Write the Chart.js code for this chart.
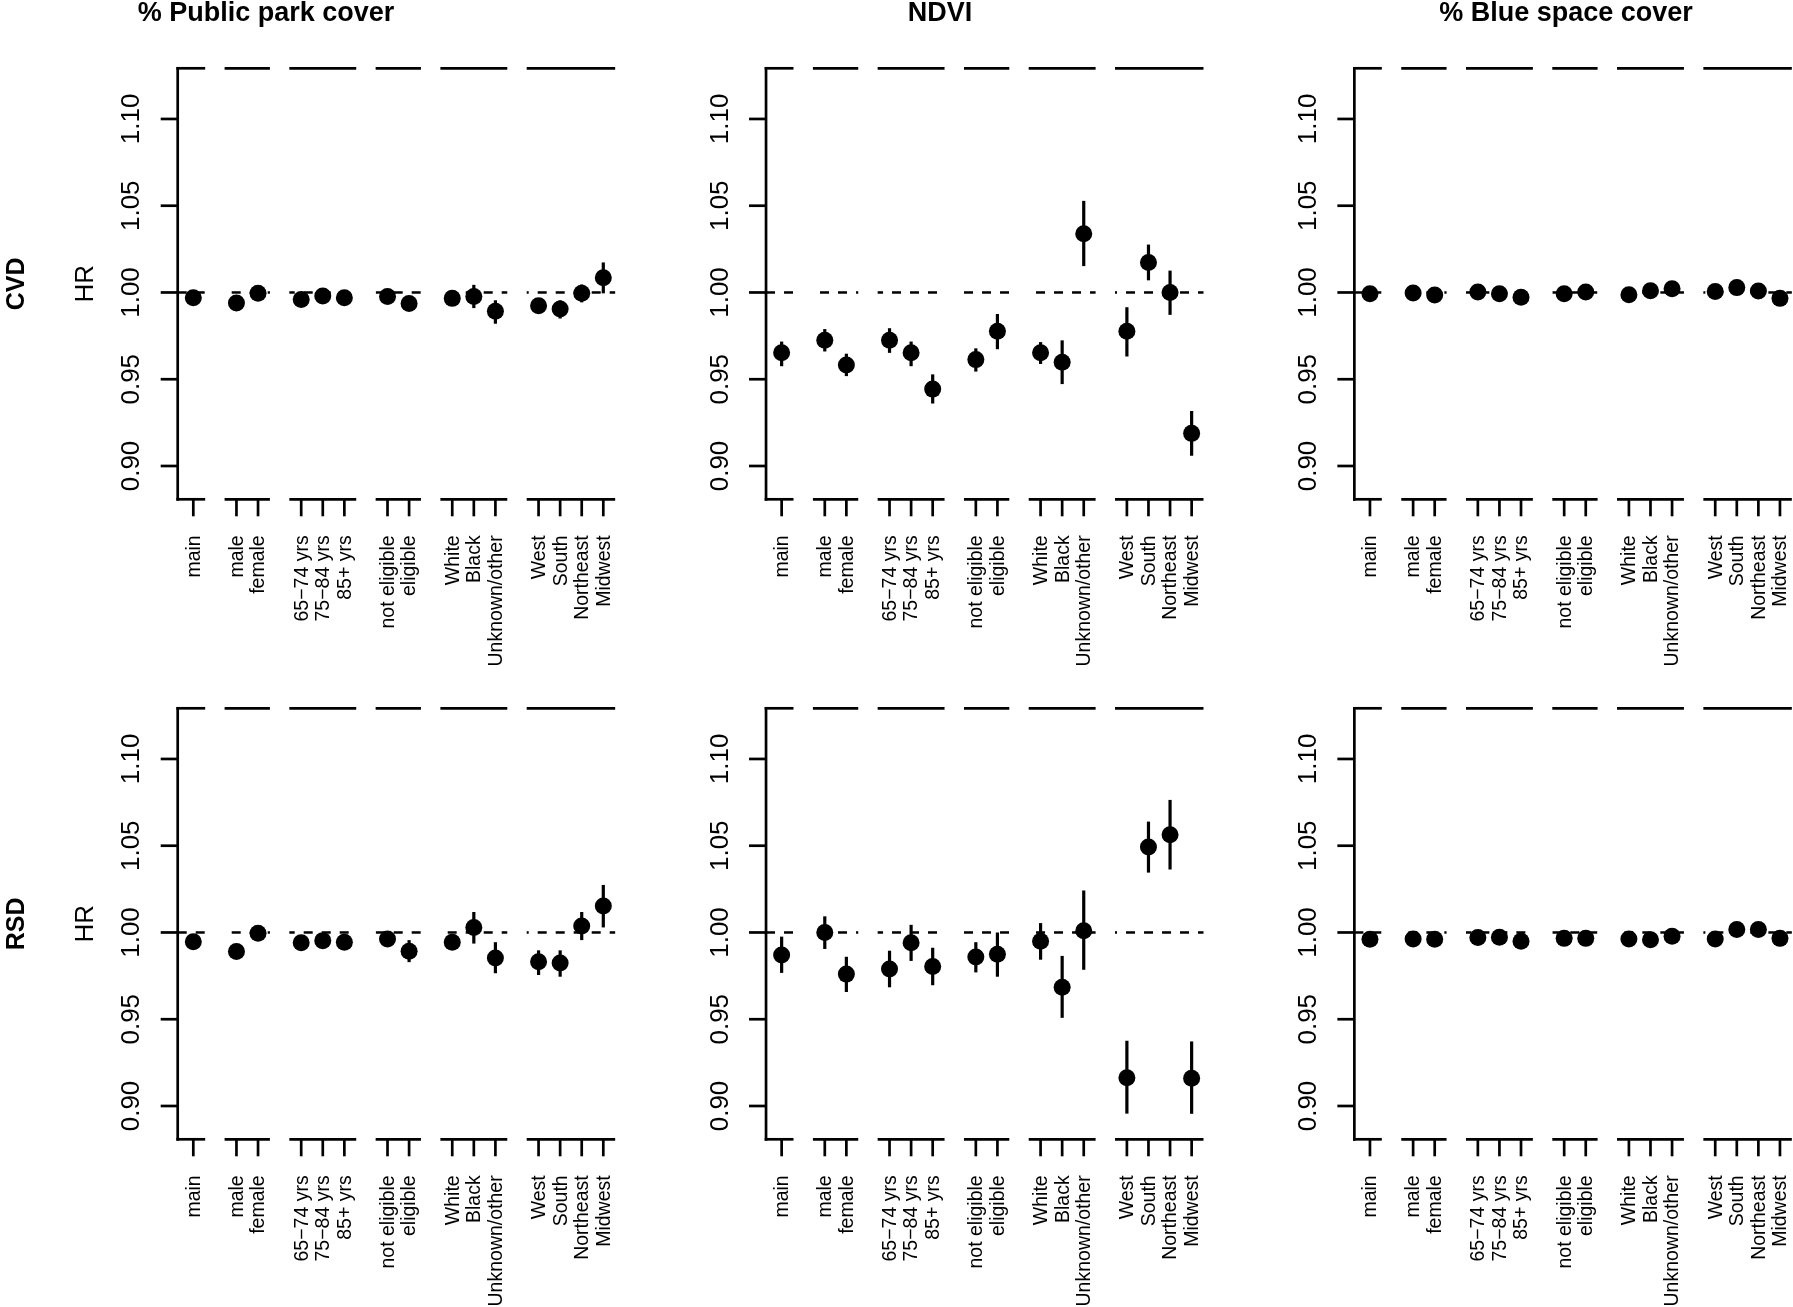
<!DOCTYPE html>
<html><head><meta charset="utf-8">
<script src="https://cdn.jsdelivr.net/npm/chart.js@4.4.1/dist/chart.umd.min.js"></script>
<style>
html,body{margin:0;padding:0;background:#fff;}
body{width:1793px;height:1307px;overflow:hidden;position:relative;}
canvas{position:absolute;}
</style></head><body>
<script>
// ---------------- DATA ----------------
const exposures = ['% Public park cover', 'NDVI', '% Blue space cover'];
const outcomes = ['CVD', 'RSD'];
const yAxisTitle = 'HR';
const groups = [
  ['main'],
  ['male', 'female'],
  ['65\u221274 yrs', '75\u221284 yrs', '85+ yrs'],
  ['not eligible', 'eligible'],
  ['White', 'Black', 'Unknown/other'],
  ['West', 'South', 'Northeast', 'Midwest']
];
const yTicks = [0.90, 0.95, 1.00, 1.05, 1.10];
const yTickLabels = ['0.90', '0.95', '1.00', '1.05', '1.10'];
const refValue = 1.00;

const parkCvdHR = [0.997, 0.994, 0.9995, 0.996, 0.998, 0.997, 0.9977, 0.9936, 0.9966, 0.9977, 0.9892, 0.9923, 0.9905, 0.9995, 1.0085];
const parkCvdLo = [0.995, 0.991, 0.997, 0.993, 0.995, 0.994, 0.995, 0.990, 0.994, 0.991, 0.982, 0.9895, 0.985, 0.9943, 0.9995];
const parkCvdHi = [0.999, 0.997, 1.002, 0.999, 1.001, 1.000, 1.0005, 0.997, 0.999, 1.0044, 0.9955, 0.995, 0.9955, 1.0046, 1.0173];

const ndviCvdHR = [0.9652, 0.9724, 0.9582, 0.9724, 0.9652, 0.9443, 0.9613, 0.9776, 0.9652, 0.9598, 1.0338, 0.9776, 1.0173, 1.0000, 0.9188];
const ndviCvdLo = [0.9575, 0.9660, 0.9518, 0.9652, 0.9575, 0.9360, 0.9544, 0.9673, 0.9588, 0.9472, 1.0152, 0.9631, 1.0070, 0.9871, 0.9059];
const ndviCvdHi = [0.9717, 0.9789, 0.9647, 0.9794, 0.9717, 0.9528, 0.9678, 0.9876, 0.9714, 0.9724, 1.0528, 0.9915, 1.0276, 1.0126, 0.9317];

const blueCvdHR = [0.9992, 0.9997, 0.9985, 1.0003, 0.9992, 0.9972, 0.9992, 1.0003, 0.9987, 1.0010, 1.0021, 1.0005, 1.0028, 1.0008, 0.9966];
const blueCvdLo = [0.9975, 0.9980, 0.9968, 0.9986, 0.9975, 0.9953, 0.9975, 0.9986, 0.9970, 0.9992, 1.0002, 0.9988, 1.0010, 0.9990, 0.9946];
const blueCvdHi = [1.0009, 1.0014, 1.0002, 1.0020, 1.0009, 0.9991, 1.0009, 1.0020, 1.0004, 1.0028, 1.0040, 1.0022, 1.0046, 1.0026, 0.9986];

const parkRsdHR = [0.9946, 0.9890, 0.9995, 0.9941, 0.9953, 0.9944, 0.9963, 0.9892, 0.9944, 1.0029, 0.9853, 0.9831, 0.9824, 1.0037, 1.0152];
const parkRsdLo = [0.9925, 0.9865, 0.9965, 0.9910, 0.9925, 0.9910, 0.9935, 0.9829, 0.9920, 0.9936, 0.9765, 0.9755, 0.9745, 0.9956, 1.0029];
const parkRsdHi = [0.9967, 0.9915, 1.0025, 0.9970, 0.9980, 0.9975, 0.9990, 0.9956, 0.9968, 1.0118, 0.9944, 0.9897, 0.9897, 1.0118, 1.0274];

const ndviRsdHR = [0.9870, 1.0000, 0.9760, 0.9789, 0.9941, 0.9804, 0.9858, 0.9875, 0.9949, 0.9684, 1.0010, 0.9163, 1.0492, 1.0563, 0.9160];
const ndviRsdLo = [0.9767, 0.9905, 0.9657, 0.9684, 0.9836, 0.9696, 0.9770, 0.9745, 0.9843, 0.9508, 0.9785, 0.8956, 1.0345, 1.0363, 0.8955];
const ndviRsdHi = [0.9976, 1.0093, 0.9860, 0.9895, 1.0044, 0.9912, 0.9944, 1.0000, 1.0054, 0.9865, 1.0242, 0.9376, 1.0639, 1.0764, 0.9372];

const blueRsdHR = [0.9961, 0.9963, 0.9961, 0.9971, 0.9973, 0.9949, 0.9966, 0.9966, 0.9963, 0.9958, 0.9978, 0.9963, 1.0017, 1.0017, 0.9966];
const blueRsdLo = [0.9944, 0.9946, 0.9944, 0.9954, 0.9956, 0.9930, 0.9949, 0.9949, 0.9946, 0.9940, 0.9960, 0.9946, 1.0000, 1.0000, 0.9921];
const blueRsdHi = [0.9978, 0.9980, 0.9978, 0.9988, 0.9990, 0.9968, 0.9983, 0.9983, 0.9980, 0.9976, 0.9996, 0.9980, 1.0034, 1.0034, 1.0011];

const panelSeries = [
  [[parkCvdHR, parkCvdLo, parkCvdHi], [ndviCvdHR, ndviCvdLo, ndviCvdHi], [blueCvdHR, blueCvdLo, blueCvdHi]],
  [[parkRsdHR, parkRsdLo, parkRsdHi], [ndviRsdHR, ndviRsdLo, ndviRsdHi], [blueRsdHR, blueRsdLo, blueRsdHi]]
];

// ---------------- LAYOUT / STYLE ----------------
const FONT = '"Liberation Sans", Arial, Helvetica, sans-serif';
const COL_W = 588.33, AXIS0 = 177.7, TOP0 = 68.3, ROW_H = 640, PLOT_H = 431;
const X_MIN = 0.277, X_MAX = 20.76, Y_MIN = 0.8808, Y_MAX = 1.1292;
const PLOT_W = 442.0;
const LW = 2.7;
const TICK_LEN = 17;
const TITLE_CX = [266, 940, 1566];

// category positions built from group structure (gap of one unit between groups)
const catLabels = [], catPos = [], groupSpans = [];
(function () {
  let p = 1;
  groups.forEach(g => {
    const first = p;
    g.forEach(l => { catLabels.push(l); catPos.push(p); p++; });
    groupSpans.push([first, p - 1]);
    p++;
  });
})();

function vtext(ctx, s, x, y, align, baseline) {
  ctx.save();
  ctx.translate(x, y);
  ctx.rotate(-Math.PI / 2);
  ctx.textAlign = align;
  ctx.textBaseline = baseline;
  ctx.fillText(s, 0, 0);
  ctx.restore();
}
function seg(ctx, x1, y1, x2, y2) {
  ctx.beginPath(); ctx.moveTo(x1, y1); ctx.lineTo(x2, y2); ctx.stroke();
}

const rPlugin = {
  id: 'rstyle',
  beforeDatasetsDraw(chart, args, opts) {
    const ctx = chart.ctx, a = chart.chartArea;
    const xs = chart.scales.x, ys = chart.scales.y;
    const spans = groupSpans.map((g, i) => [i === 0 ? xs.min : g[0] - 0.55, g[1] + 0.55]);
    ctx.save();
    ctx.strokeStyle = '#000';
    ctx.fillStyle = '#000';
    ctx.lineCap = 'butt';
    ctx.lineWidth = LW;

    // reference dashed line, clipped to group spans
    ctx.save();
    ctx.beginPath();
    spans.forEach(([s, e]) => {
      const p1 = xs.getPixelForValue(s), p2 = xs.getPixelForValue(e);
      ctx.rect(p1, a.top, p2 - p1, a.bottom - a.top);
    });
    ctx.clip();
    ctx.setLineDash([9, 9]);
    ctx.lineWidth = 2.5;
    const yr = ys.getPixelForValue(refValue);
    seg(ctx, a.left, yr, a.right, yr);
    ctx.restore();

    // top/bottom box segments
    spans.forEach(([s, e], i) => {
      const p1 = xs.getPixelForValue(s) - (i === 0 ? LW / 2 : 0), p2 = xs.getPixelForValue(e);
      seg(ctx, p1, a.top, p2, a.top);
      seg(ctx, p1, a.bottom, p2, a.bottom);
    });
    // left axis
    seg(ctx, a.left, a.top - LW / 2, a.left, a.bottom + LW / 2);

    // y ticks + labels
    ctx.font = '26px ' + FONT;
    ys.ticks.forEach((t, i) => {
      const py = ys.getPixelForValue(t.value);
      seg(ctx, a.left - TICK_LEN, py, a.left, py);
      vtext(ctx, yTickLabels[i], a.left - 38.5, py, 'center', 'alphabetic');
    });

    // x ticks + labels
    ctx.font = '19.5px ' + FONT;
    catPos.forEach((p, i) => {
      const px = xs.getPixelForValue(p);
      seg(ctx, px, a.bottom, px, a.bottom + TICK_LEN);
      vtext(ctx, catLabels[i], px + 1, a.bottom + 36, 'right', 'middle');
    });

    // error bars
    const [hr, lo, hi] = opts.series;
    ctx.lineWidth = 3.2;
    catPos.forEach((p, i) => {
      const px = xs.getPixelForValue(p);
      seg(ctx, px, ys.getPixelForValue(lo[i]), px, ys.getPixelForValue(hi[i]));
    });

    const midY = (a.top + a.bottom) / 2;
    if (opts.col === 0) {
      ctx.font = '26px ' + FONT;
      vtext(ctx, yAxisTitle, a.left - 85, midY, 'center', 'alphabetic');
      ctx.font = 'bold 25px ' + FONT;
      vtext(ctx, outcomes[opts.row], 23.5 - opts.canvasLeft, midY, 'center', 'alphabetic');
    }
    if (opts.row === 0) {
      ctx.font = 'bold 27px ' + FONT;
      ctx.textAlign = 'center';
      ctx.textBaseline = 'alphabetic';
      ctx.fillText(exposures[opts.col], TITLE_CX[opts.col] - opts.canvasLeft, 21);
    }
    ctx.restore();
  }
};

for (let r = 0; r < 2; r++) {
  for (let c = 0; c < 3; c++) {
    const axisX = AXIS0 + c * COL_W;
    const left = Math.round(c * COL_W);
    const top = r * ROW_H;
    const W = 632, H = r === 0 ? 700 : 1307 - ROW_H;
    const cv = document.createElement('canvas');
    cv.width = W; cv.height = H;
    cv.style.left = left + 'px'; cv.style.top = top + 'px';
    cv.style.width = W + 'px'; cv.style.height = H + 'px';
    document.body.appendChild(cv);
    const padL = axisX - left;
    const [hr, lo, hi] = panelSeries[r][c];
    new Chart(cv.getContext('2d'), {
      type: 'scatter',
      data: {
        datasets: [{
          data: catPos.map((p, i) => ({ x: p, y: hr[i] })),
          pointRadius: 8.5,
          pointHoverRadius: 8.5,
          backgroundColor: '#000',
          borderColor: '#000',
          borderWidth: 0,
          showLine: false,
          clip: false
        }]
      },
      options: {
        responsive: false,
        animation: false,
        devicePixelRatio: 1,
        events: [],
        layout: { padding: { left: padL, top: TOP0, right: W - padL - PLOT_W, bottom: H - TOP0 - PLOT_H } },
        scales: {
          x: { type: 'linear', min: X_MIN, max: X_MAX, display: false },
          y: {
            type: 'linear', min: Y_MIN, max: Y_MAX, display: false,
            afterBuildTicks: s => { s.ticks = yTicks.map(v => ({ value: v })); }
          }
        },
        plugins: {
          legend: { display: false },
          tooltip: { enabled: false },
          rstyle: { series: [hr, lo, hi], row: r, col: c, canvasLeft: left }
        }
      },
      plugins: [rPlugin]
    });
  }
}
</script>
</body></html>
